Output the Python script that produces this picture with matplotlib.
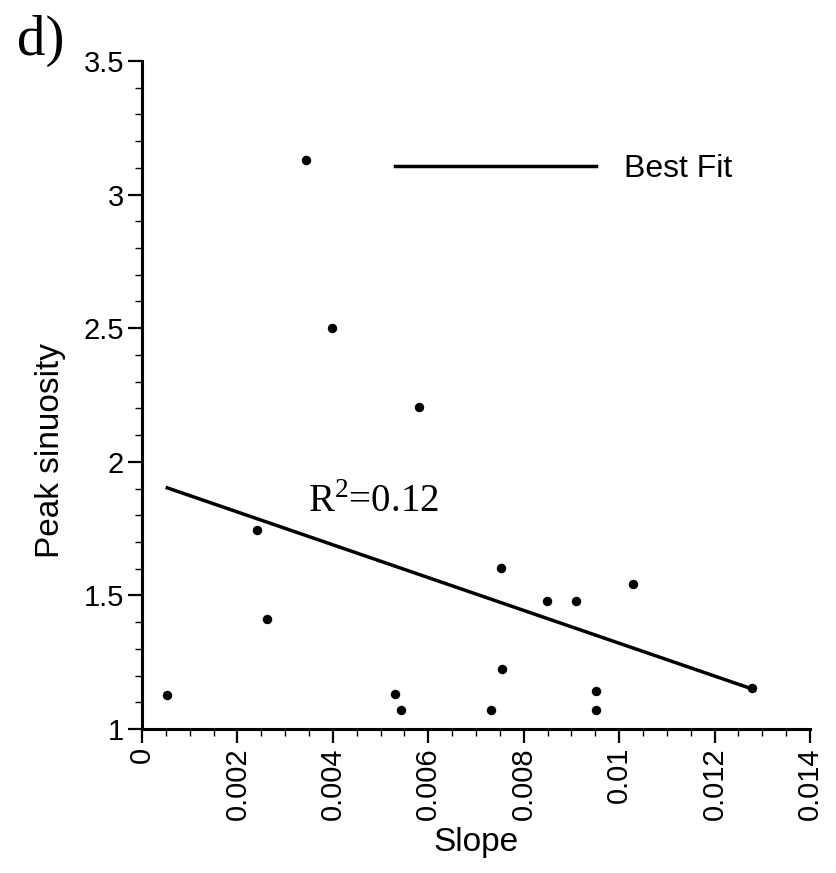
import numpy as np
import matplotlib
matplotlib.use("Agg")
import matplotlib.pyplot as plt
from matplotlib.ticker import MultipleLocator, FuncFormatter

# channel slope vs peak sinuosity
slope = [0.00053, 0.00242, 0.00263, 0.00343, 0.00399, 0.00531, 0.00543, 0.00581,
         0.00731, 0.00752, 0.00754, 0.00849, 0.00910, 0.00951, 0.00951, 0.01028, 0.01279]
sinuosity = [1.127, 1.745, 1.413, 3.128, 2.500, 1.131, 1.070, 2.205,
             1.070, 1.604, 1.224, 1.479, 1.479, 1.143, 1.070, 1.542, 1.152]

# best fit line (y = a*x + b)
fit_a = -61.4
fit_b = 1.935
r_squared = 0.12

sans = "Liberation Sans"
serif = "Liberation Serif"
plt.rcParams["font.family"] = sans
plt.rcParams["mathtext.fontset"] = "custom"
plt.rcParams["mathtext.rm"] = serif

fig = plt.figure(figsize=(8.37, 8.73), dpi=100)
ax = fig.add_axes([142 / 837, 1 - 729 / 873, 668 / 837, 668 / 873])

ax.plot(slope, sinuosity, "o", color="black", markersize=5.8, zorder=3)

xfit = np.array([min(slope), max(slope)])
ax.plot(xfit, fit_a * xfit + fit_b, "-", color="black", lw=2.5, label="Best Fit")

ax.text(0.00348, 1.813, r"R$^{\mathrm{2}}$=" + f"{r_squared:.2f}", family=serif,
        fontsize=28, va="baseline", ha="left")

ax.set_xlim(0, 0.014)
ax.set_ylim(1, 3.5)
ax.xaxis.set_major_locator(MultipleLocator(0.002))
ax.xaxis.set_minor_locator(MultipleLocator(0.0005))
ax.yaxis.set_major_locator(MultipleLocator(0.5))
ax.yaxis.set_minor_locator(MultipleLocator(0.1))
fmt = FuncFormatter(lambda v, p: f"{v:g}")
ax.xaxis.set_major_formatter(fmt)
ax.yaxis.set_major_formatter(fmt)

for s in ["top", "right"]:
    ax.spines[s].set_visible(False)
for s in ["left", "bottom"]:
    ax.spines[s].set_linewidth(2.2)

ax.tick_params(which="major", direction="out", length=10, width=1.6, pad=3,
               labelsize=21)
ax.tick_params(which="minor", direction="out", length=5, width=1.0)
ax.tick_params(axis="x", labelrotation=90)

ax.set_xlabel("Slope", fontsize=24, labelpad=5)
fig.text(51 / 837, 1 - 450 / 873, "Peak sinuosity", fontsize=24, rotation=90,
         ha="center", va="center")

ax.legend(loc="center left", bbox_to_anchor=(0.379, 0.838), frameon=False,
          prop={"family": sans, "size": 23}, handlelength=6.3, handletextpad=0.85,
          borderpad=0, borderaxespad=0)

fig.text(17 / 837, 1 - 55 / 873, "d)", family=serif, fontsize=41, va="baseline")

fig.savefig("out.png", dpi=100)
